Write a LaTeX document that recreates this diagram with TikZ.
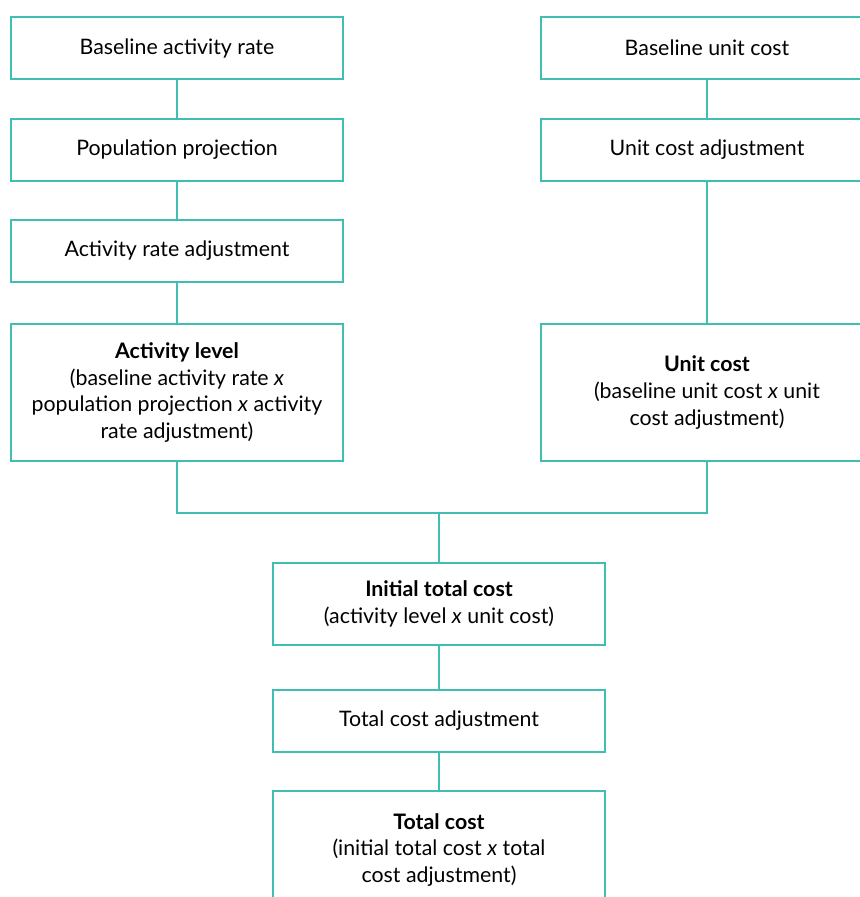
\documentclass[tikz,border=0pt]{standalone}
\usepackage{fontspec}
\setmainfont{Lato}
\definecolor{boxline}{RGB}{64,190,180}

\begin{document}
\begin{tikzpicture}[x=0.75pt,y=-0.75pt]
\useasboundingbox (0,0) rectangle (860,897);
\clip (0,0) rectangle (860,897);
\begin{scope}
	\tikzstyle{every node}=[font=\fontsize{16}{20}\selectfont, align=center]
	\tikzstyle{cbox}=[draw=boxline, line width=1.5pt, minimum width=249pt, inner sep=0pt]
	\node[cbox, minimum height=46.5pt] (bar) at (177,48) {Baseline activity rate};
	\node[cbox, minimum height=46.5pt] (pp) at (177,150) {Population projection};
	\node[cbox, minimum height=46.5pt] (ara) at (177,250.5) {Activity rate adjustment};
	\node[cbox, minimum height=102.75pt] (al) at (177,392.5) {\textbf{Activity level}\\(baseline activity rate \textit{x}\\population projection \textit{x} activity\\rate adjustment)};
	\node[cbox, minimum height=46.5pt] (buc) at (707,48) {Baseline unit cost};
	\node[cbox, minimum height=46.5pt] (uca) at (707,150) {Unit cost adjustment};
	\node[cbox, minimum height=102.75pt] (uc) at (707,392.5) {\textbf{Unit cost}\\(baseline unit cost \textit{x} unit\\cost adjustment)};
	\node[cbox, minimum height=61.5pt] (itc) at (439,604) {\textbf{Initial total cost}\\(activity level \textit{x} unit cost)};
	\node[cbox, minimum height=46.5pt] (tca) at (439,721) {Total cost adjustment};
	\node[cbox, minimum height=88.5pt] (tc) at (439,850) {\textbf{Total cost}\\(initial total cost \textit{x} total\\cost adjustment)};
	\coordinate (join) at (439,513);

	\draw [boxline, line width=1.5pt] (bar) -- (pp);
	\draw [boxline, line width=1.5pt] (pp) -- (ara);
	\draw [boxline, line width=1.5pt] (ara) -- (al);
	\draw [boxline, line width=1.5pt] (buc) -- (uca);
	\draw [boxline, line width=1.5pt] (uca) -- (uc);
	\draw [boxline, line width=1.5pt] (al.south) |- (join) -| (uc.south);
	\draw [boxline, line width=1.5pt] (join) -- (itc);
	\draw [boxline, line width=1.5pt] (itc) -- (tca);
	\draw [boxline, line width=1.5pt] (tca) -- (tc);
\end{scope}
\end{tikzpicture}
\end{document}
